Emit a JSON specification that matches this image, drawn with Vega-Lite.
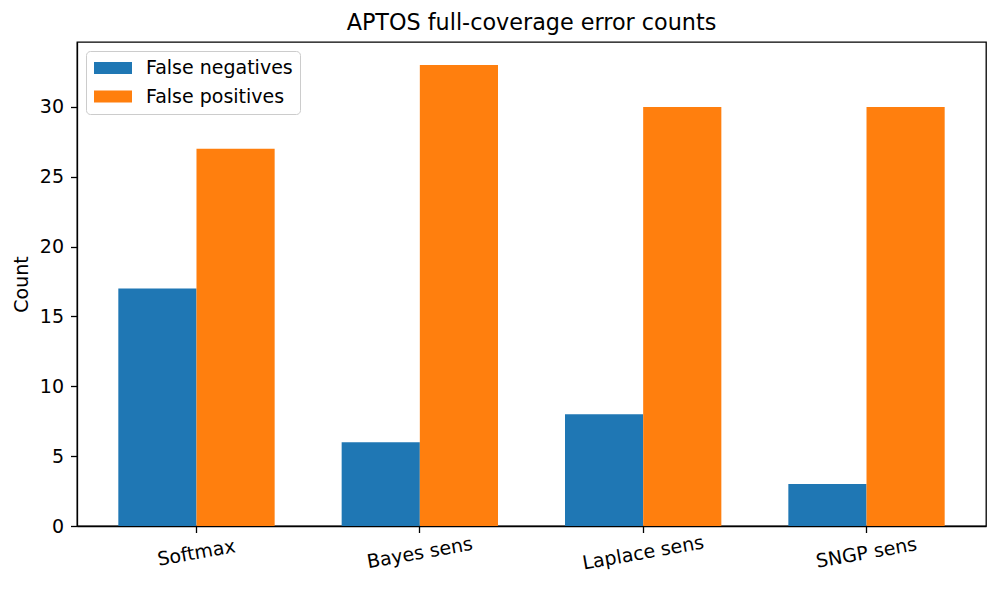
{
  "$schema": "https://vega.github.io/schema/vega-lite/v6.json",
  "width": 909,
  "height": 484,
  "autosize": {"type": "none"},
  "padding": {"left": 77, "top": 42, "right": 14, "bottom": 67},
  "background": "white",
  "title": {
    "text": "APTOS full-coverage error counts",
    "fontSize": 22.3,
    "fontWeight": "normal",
    "font": "DejaVu Sans",
    "color": "black",
    "anchor": "middle",
    "offset": 8
  },
  "data": {
    "values": [
      {"model": "Softmax", "type": "False negatives", "count": 17},
      {"model": "Softmax", "type": "False positives", "count": 27},
      {"model": "Bayes sens", "type": "False negatives", "count": 6},
      {"model": "Bayes sens", "type": "False positives", "count": 33},
      {"model": "Laplace sens", "type": "False negatives", "count": 8},
      {"model": "Laplace sens", "type": "False positives", "count": 30},
      {"model": "SNGP sens", "type": "False negatives", "count": 3},
      {"model": "SNGP sens", "type": "False positives", "count": 30}
    ]
  },
  "mark": {"type": "bar", "strokeWidth": 0},
  "encoding": {
    "x": {
      "field": "model",
      "type": "nominal",
      "sort": null,
      "scale": {"paddingInner": 0.3, "paddingOuter": 0.185},
      "axis": {
        "title": null,
        "labelAngle": -10,
        "labelAlign": "center",
        "labelBaseline": "middle",
        "labelPadding": 20,
        "labelFontSize": 19,
        "labelFont": "DejaVu Sans",
        "labelColor": "black",
        "tickSize": 6.5,
        "tickColor": "black",
        "domainColor": "black",
        "tickWidth": 1.3,
        "domainWidth": 1.3
      }
    },
    "xOffset": {
      "field": "type",
      "type": "nominal",
      "sort": ["False negatives", "False positives"],
      "scale": {"paddingInner": 0, "paddingOuter": 0}
    },
    "y": {
      "field": "count",
      "type": "quantitative",
      "scale": {"domain": [0, 34.65], "nice": false, "zero": true},
      "axis": {
        "title": "Count",
        "values": [0, 5, 10, 15, 20, 25, 30],
        "grid": false,
        "labelFontSize": 19,
        "labelFont": "DejaVu Sans",
        "labelColor": "black",
        "labelPadding": 7,
        "titleFontSize": 19,
        "titleFont": "DejaVu Sans",
        "titleFontWeight": "normal",
        "titleColor": "black",
        "titlePadding": 8,
        "tickSize": 6.5,
        "tickColor": "black",
        "domainColor": "black",
        "tickWidth": 1.3,
        "domainWidth": 1.3
      }
    },
    "color": {
      "field": "type",
      "type": "nominal",
      "scale": {
        "domain": ["False negatives", "False positives"],
        "range": ["#1f77b4", "#ff7f0e"]
      },
      "legend": {
        "title": null,
        "orient": "top-left",
        "offset": 9,
        "padding": 7,
        "fillColor": "rgba(255,255,255,0.8)",
        "strokeColor": "#cccccc",
        "cornerRadius": 4,
        "symbolType": "M-0.9,-0.6H2.9V0.6H-0.9Z",
        "symbolSize": 400,
        "symbolStrokeWidth": 0,
        "symbolOpacity": 1,
        "labelFontSize": 19,
        "labelFont": "DejaVu Sans",
        "labelColor": "black",
        "labelOffset": 33,
        "rowPadding": 8.5
      }
    }
  },
  "config": {
    "view": {"stroke": "black", "strokeWidth": 1.3},
    "font": "DejaVu Sans"
  }
}
